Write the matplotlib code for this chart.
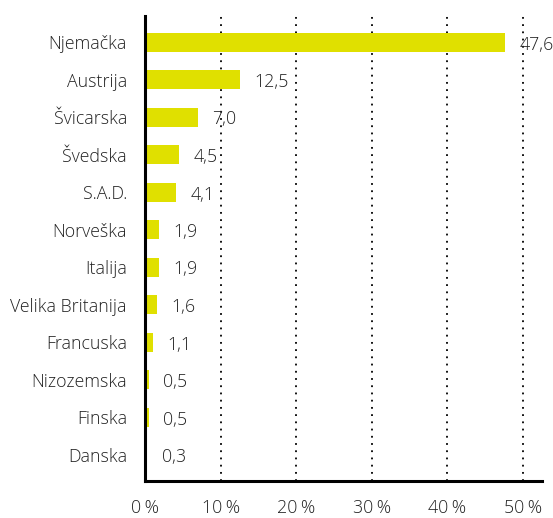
import numpy as np
import matplotlib.pyplot as plt

plt.rcParams['font.family'] = ['Open Sans', 'DejaVu Sans']
plt.rcParams['font.weight'] = 'light'

# podaci
zemlje = ['Njemačka', 'Austrija', 'Švicarska', 'Švedska', 'S.A.D.', 'Norveška',
          'Italija', 'Velika Britanija', 'Francuska', 'Nizozemska', 'Finska', 'Danska']
udjeli = [47.6, 12.5, 7.0, 4.5, 4.1, 1.9, 1.9, 1.6, 1.1, 0.5, 0.5, 0.3]
x_ticks = [0, 10, 20, 30, 40, 50]

fig = plt.figure(figsize=(5.53, 5.18), dpi=100)
ax = fig.add_axes([145 / 553, 37 / 518, 397 / 553, 465 / 518])

y = np.arange(len(zemlje))
ax.barh(y, udjeli, height=0.5, color='#e0e000')

for yi, v in zip(y, udjeli):
    ax.text(v + 1.9, yi + 0.06, f'{v:.1f}'.replace('.', ','), va='center', ha='left',
            fontsize=12.8, color='#222222')

ax.set_xlim(0, 52.5)
ax.set_ylim(11.7, -0.7)
ax.set_yticks(y)
ax.set_yticklabels(zemlje, fontsize=12.8, color='#222222')
ax.set_xticks(x_ticks)
ax.set_xticklabels([f'{t}\u2009%' for t in x_ticks], fontsize=12.8, color='#222222')
ax.tick_params(axis='both', length=0)
ax.tick_params(axis='x', pad=13)
ax.tick_params(axis='y', pad=13)

for t in x_ticks[1:]:
    ax.axvline(t, color='black', linestyle=(0, (1, 3)), linewidth=1.3, zorder=0)

for s in ['top', 'right']:
    ax.spines[s].set_visible(False)
ax.spines['left'].set_linewidth(2.2)
ax.spines['bottom'].set_linewidth(2.2)

fig.savefig('out.png', dpi=100)
